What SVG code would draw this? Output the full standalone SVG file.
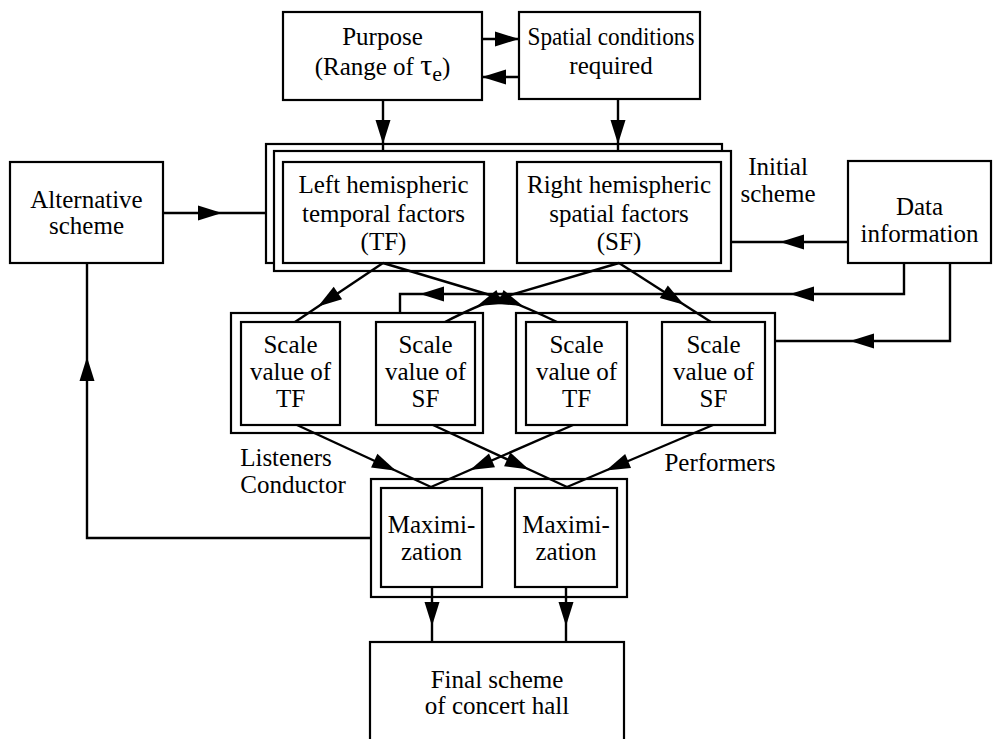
<svg xmlns="http://www.w3.org/2000/svg" xmlns:xlink="http://www.w3.org/1999/xlink" width="997" height="739" viewBox="0 0 997 739">
<style>
  .box { fill: #fff; stroke: #000; stroke-width: 2.2; }
  .ln { fill: none; stroke: #000; stroke-width: 2.4; }
  text { font-family: "Liberation Serif", "Times New Roman", serif; font-size: 25px; fill: #000; text-anchor: middle; }
  .ah { fill: #000; }
</style>
<defs>
  <path id="ah" d="M0,0 L-24,-7.5 L-24,7.5 Z"/>
</defs>
<rect width="997" height="739" fill="#fff"/>

<g id="purpose">
  <rect class="box" x="283" y="12" width="199" height="88"/>
  <text x="382.5" y="45">Purpose</text>
  <text x="382.5" y="75">(Range of <tspan font-size="30">τ</tspan><tspan font-size="22" dy="6">e</tspan><tspan dy="-6">)</tspan></text>
</g>

<g id="spatial-conditions">
  <rect class="box" x="519" y="12" width="181" height="87"/>
  <text x="611" y="45" textLength="167" lengthAdjust="spacingAndGlyphs">Spatial conditions</text>
  <text x="611" y="74">required</text>
</g>

<g id="initial-scheme">
  <rect class="box" x="266" y="144" width="456" height="119"/>
  <rect class="box" x="274" y="151" width="457" height="120"/>
  <text x="778" y="175">Initial</text>
  <text x="778" y="202">scheme</text>
</g>

<g id="tf">
  <rect class="box" x="283" y="162" width="201" height="101"/>
  <text x="383.5" y="193">Left hemispheric</text>
  <text x="383.5" y="222">temporal factors</text>
  <text x="383.5" y="250">(TF)</text>
</g>

<g id="sf">
  <rect class="box" x="517" y="162" width="204" height="101"/>
  <text x="619" y="193">Right hemispheric</text>
  <text x="619" y="222">spatial factors</text>
  <text x="619" y="250">(SF)</text>
</g>

<g id="alternative-scheme">
  <rect class="box" x="10" y="162" width="153" height="101"/>
  <text x="86.5" y="208">Alternative</text>
  <text x="86.5" y="234">scheme</text>
</g>

<g id="data-information">
  <rect class="box" x="848" y="161" width="143" height="102"/>
  <text x="919.5" y="215">Data</text>
  <text x="919.5" y="242">information</text>
</g>

<g id="listeners-scale">
  <rect class="box" x="231" y="313" width="252" height="120"/>
</g>
<g id="performers-scale">
  <rect class="box" x="516" y="313" width="259" height="120"/>
</g>

<g id="scale-tf-listeners">
  <rect class="box" x="241" y="322" width="99" height="103"/>
  <text x="290.5" y="353">Scale</text>
  <text x="290.5" y="380">value of</text>
  <text x="290.5" y="407">TF</text>
</g>
<g id="scale-sf-listeners">
  <rect class="box" x="376" y="322" width="99" height="103"/>
  <text x="425.5" y="353">Scale</text>
  <text x="425.5" y="380">value of</text>
  <text x="425.5" y="407">SF</text>
</g>
<g id="scale-tf-performers">
  <rect class="box" x="526" y="322" width="101" height="103"/>
  <text x="576.5" y="353">Scale</text>
  <text x="576.5" y="380">value of</text>
  <text x="576.5" y="407">TF</text>
</g>
<g id="scale-sf-performers">
  <rect class="box" x="662" y="322" width="103" height="103"/>
  <text x="713.5" y="353">Scale</text>
  <text x="713.5" y="380">value of</text>
  <text x="713.5" y="407">SF</text>
</g>

<g id="labels">
  <text x="286" y="466">Listeners</text>
  <text x="293" y="493">Conductor</text>
  <text x="720" y="471">Performers</text>
</g>

<g id="maximization-frame">
  <rect class="box" x="371" y="479" width="256" height="118"/>
</g>
<g id="maximization-1">
  <rect class="box" x="381" y="488" width="101" height="99"/>
  <text x="431.5" y="533">Maximi-</text>
  <text x="431.5" y="560">zation</text>
</g>
<g id="maximization-2">
  <rect class="box" x="515" y="488" width="102" height="99"/>
  <text x="566" y="533">Maximi-</text>
  <text x="566" y="560">zation</text>
</g>

<g id="final-scheme">
  <rect class="box" x="370" y="642" width="254" height="120"/>
  <text x="497" y="688">Final scheme</text>
  <text x="497" y="714">of concert hall</text>
</g>

<g id="connectors">
  <path class="ln" d="M482,39 H519"/>
  <use xlink:href="#ah" class="ah" transform="translate(519,39)"/>
  <path class="ln" d="M519,77 H482"/>
  <use xlink:href="#ah" class="ah" transform="translate(482,77) rotate(180)"/>
  <path class="ln" d="M383,100 V151"/>
  <use xlink:href="#ah" class="ah" transform="translate(383,144) rotate(90)"/>
  <path class="ln" d="M618,99 V151"/>
  <use xlink:href="#ah" class="ah" transform="translate(618,144) rotate(90)"/>
  <path class="ln" d="M163,213 H266"/>
  <use xlink:href="#ah" class="ah" transform="translate(222,213)"/>
  <path class="ln" d="M848,242 H731"/>
  <use xlink:href="#ah" class="ah" transform="translate(780,242) rotate(180)"/>
  <path class="ln" d="M904,263 V294 H400 V313"/>
  <use xlink:href="#ah" class="ah" transform="translate(790,294) rotate(180)"/>
  <use xlink:href="#ah" class="ah" transform="translate(420,294) rotate(180)"/>
  <path class="ln" d="M950,263 V341 H775"/>
  <use xlink:href="#ah" class="ah" transform="translate(850,341) rotate(180)"/>
  <path class="ln" d="M383,263 L295,322"/>
  <use xlink:href="#ah" class="ah" transform="translate(318,306.5) rotate(146)"/>
  <path class="ln" d="M383,263 L500,298 Q522,305 557,322"/>
  <use xlink:href="#ah" class="ah" transform="translate(523,306) rotate(22)"/>
  <path class="ln" d="M619,263 L500,298 Q478,305 445,322"/>
  <use xlink:href="#ah" class="ah" transform="translate(477,306) rotate(158)"/>
  <path class="ln" d="M619,263 L711,322"/>
  <use xlink:href="#ah" class="ah" transform="translate(684,304.7) rotate(32.7)"/>
  <path class="ln" d="M297,425 L431,487"/>
  <use xlink:href="#ah" class="ah" transform="translate(396,470.7) rotate(24.8)"/>
  <path class="ln" d="M573,425 L431,487"/>
  <use xlink:href="#ah" class="ah" transform="translate(470,470) rotate(156.4)"/>
  <path class="ln" d="M433,425 L567,487"/>
  <use xlink:href="#ah" class="ah" transform="translate(529,469.4) rotate(24.8)"/>
  <path class="ln" d="M713,425 L567,487"/>
  <use xlink:href="#ah" class="ah" transform="translate(606,470.4) rotate(157)"/>
  <path class="ln" d="M432,587 V642"/>
  <use xlink:href="#ah" class="ah" transform="translate(432,626) rotate(90)"/>
  <path class="ln" d="M566,587 V642"/>
  <use xlink:href="#ah" class="ah" transform="translate(566,626) rotate(90)"/>
  <path class="ln" d="M371,538 H87 V263"/>
  <use xlink:href="#ah" class="ah" transform="translate(87,357) rotate(-90)"/>
</g>
</svg>
